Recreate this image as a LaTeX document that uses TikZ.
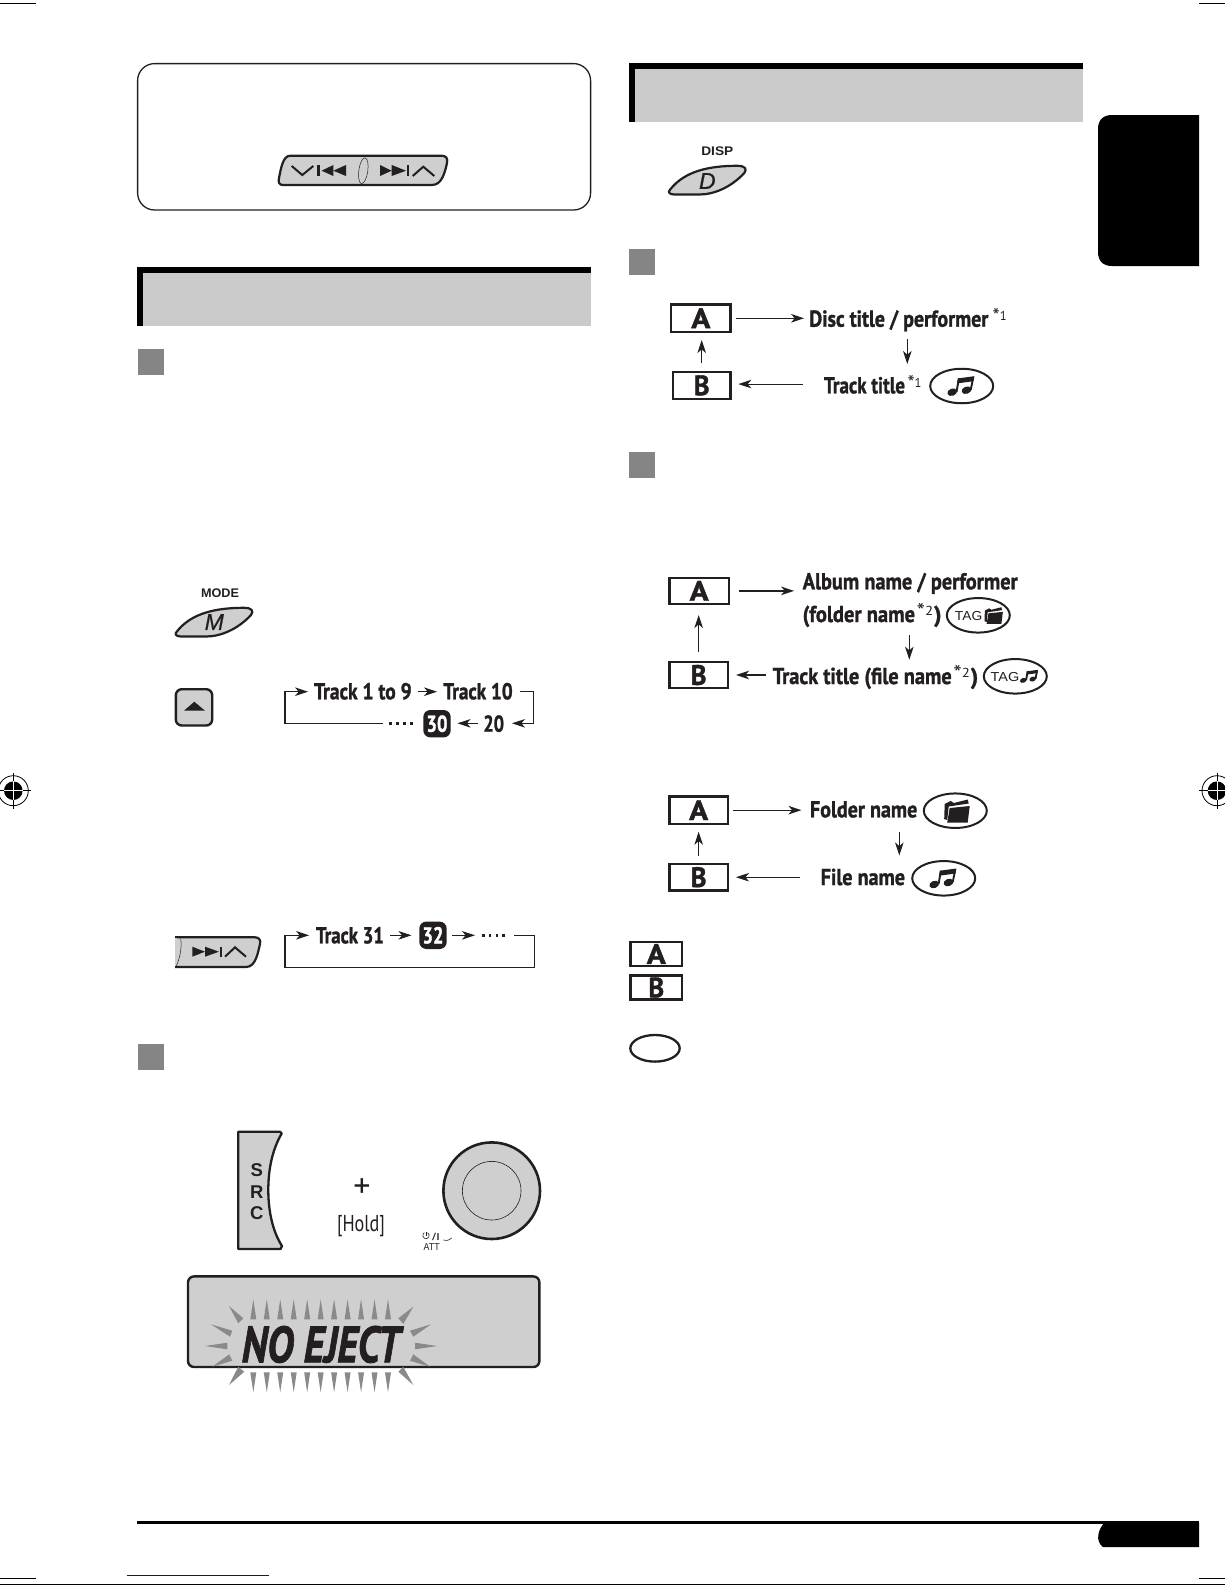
\documentclass[tikz,border=0pt]{standalone}
\usepackage{fontspec}
\usepackage{graphicx}
\usetikzlibrary{arrows.meta,shapes.geometric}
\setmainfont[BoldFeatures={FakeBold=1.4},BoldItalicFeatures={FakeBold=1.6}]{PT Sans}
\newfontfamily\hv{Liberation Sans}
\newfontfamily\hvi[ItalicFeatures={FakeBold=0.7}]{Liberation Sans}
\definecolor{ink}{HTML}{231F20}
\definecolor{panel}{HTML}{CFCFCF}
\definecolor{band}{HTML}{CBCBCB}
\definecolor{sq}{HTML}{858585}
\definecolor{rayc}{HTML}{8A8A8A}
\newcommand\cond[2]{\resizebox{#1pt}{\height}{#2}}
\newcommand\fsz[1]{\fontsize{#1}{#1}\selectfont}
\newcommand\starsup[1]{\raisebox{-3.5pt}{\fsz{21}*}\fsz{13}#1}
\tikzset{
 btn/.style={draw=ink,fill=panel,line width=2.2pt,line join=round},
 ttl/.style={inner sep=0pt,anchor=base,text=ink,font=\bfseries\fsz{23}},
 sup/.style={inner sep=0pt,anchor=base,text=ink,font=\fsz{13}},
 hvt/.style={inner sep=0pt,anchor=base,text=ink,font=\hv\bfseries\fsz{12.5}},
 tagt/.style={inner sep=0pt,anchor=base,text=ink,font=\hv\fsz{13}},
 abox/.style={draw=ink,line width=2.3pt,inner sep=0pt,text=ink,font=\bfseries\fsz{28}},
 nbox/.style={fill=ink,rounded corners=7pt,minimum width=27.4pt,minimum height=27.4pt,inner sep=0pt,text=white,font=\bfseries\fsz{23}},
 oval/.style={draw=ink,ellipse,line width=2pt,inner sep=0pt},
 arr/.style={draw=ink,line width=1.1pt,-{Stealth[length=13pt,width=8.5pt,inset=3.6pt]}},
 rayt/.style={fill=rayc},
 dotrow/.style={draw=ink,line width=2.8pt,dash pattern=on 2.8pt off 4.1pt},
 lp/.style={draw=ink,line width=1pt},
 hdr/.style={fill=band},
 sqr/.style={fill=sq},
 sym/.style={fill=ink},
 chev/.style={draw=ink,line width=2pt},
}
\newcommand\leafbtn[2]{\begin{scope}[shift={(#1,#2)}]
 \draw[btn] (0.5,25) .. controls (15,6) and (40,0.8) .. (68,0.8) .. controls (76,0.8) and (78,4) .. (75,8) .. controls (62,22) and (45,29.5) .. (30,29.5) -- (5,29.5) .. controls (0,29.5) and (-1.5,27) .. (0.5,25) -- cycle;
\end{scope}}
\newcommand\noteicon[3]{\begin{scope}[shift={(#1,#2)},scale=#3]
 \fill[ink] (-9.5,6.2) circle [x radius=5pt,y radius=3.6pt,rotate=20];
 \fill[ink] (4.8,4.2) circle [x radius=5pt,y radius=3.6pt,rotate=20];
 \draw[ink,line width=1.9pt] (-5.2,6) -- (-2.8,-7.5);
 \draw[ink,line width=1.9pt] (9,4) -- (11.6,-9);
 \fill[ink] (-3.8,-7.6) -- (12.6,-9.8) -- (11.8,-4.8) -- (-4.6,-2.6) -- cycle;
\end{scope}}
\newcommand\foldericon[3]{\begin{scope}[shift={(#1,#2)},scale=#3]
 \fill[ink] (-12,-7) -- (-6,-10) -- (-3,-8) -- (11,-11.5) -- (12,-7.5) -- (-8,-4.5) -- (-9.5,9) -- (-12.5,8) -- cycle;
 \fill[ink] (-7,-3) -- (13,-5) -- (11,11.5) -- (-9.5,11.5) -- cycle;
\end{scope}}
\newcommand\regmark[2]{\begin{scope}[shift={(#1,#2)}]
 \draw[black,line width=.8pt] (0,0) circle (15);
 \fill[black] (0,0) circle (9.3);
 \draw[black,line width=.8pt] (-18,0) -- (18,0) (0,-18) -- (0,18);
 \draw[white,line width=.8pt] (-9.3,0) -- (9.3,0) (0,-9.3) -- (0,9.3);
\end{scope}}
\begin{document}
\begin{tikzpicture}[x=1pt,y=-1pt]
\useasboundingbox (0,0) rectangle (1225,1585);
\fill[white] (0,0) rectangle (1225,1585);
% crop marks and page furniture
\draw[black,line width=1pt] (0,3.3) -- (36,3.3) (1199,3.3) -- (1225,3.3) (0,1578.3) -- (36,1578.3) (1199,1578.3) -- (1225,1578.3) (0,1584.5) -- (1225,1584.5);
\draw[blue,line width=1pt] (127,1575) -- (269,1575);
\regmark{13.3}{790.7}
\regmark{1217}{790.7}
\fill[black] (1112,115) -- (1199,115) -- (1199,266) -- (1112,266) .. controls (1103,266) and (1098,261) .. (1098,252) -- (1098,129) .. controls (1098,120) and (1103,115) .. (1112,115) -- cycle;
\fill[black] (137,1520.7) rectangle (1199,1524.3);
\fill[black] (1199,1523) -- (1104,1523) .. controls (1098,1530) and (1095,1541) .. (1103,1547) -- (1199,1547) -- cycle;
% top-left frame
\draw[ink,line width=1.3pt,rounded corners=17pt] (137.6,63.6) rectangle (590.6,210);
\draw[btn] (290,155.8) -- (441.7,155.8) .. controls (446,155.8) and (448,158) .. (447,163) .. controls (445,172) and (442,185) .. (432,185) -- (283,185) .. controls (279,185) and (278,182) .. (279,178) .. controls (281,168) and (283,155.8) .. (290,155.8) -- cycle;
\draw[chev] (291.7,166) -- (302.3,175) -- (313.3,166);
\fill[sym] (316.7,165) rectangle (320,176);
\fill[sym] (333.3,165) -- (321.7,170.7) -- (333.3,176) -- cycle;
\fill[sym] (346,165) -- (333.3,170.7) -- (346,176) -- cycle;
\draw[ink,line width=.5pt] (363.3,170.7) circle [x radius=4.5pt,y radius=13pt,rotate=-8];
\fill[sym] (380,165) -- (391.7,170.7) -- (380,176) -- cycle;
\fill[sym] (391.7,165) -- (406,170.7) -- (391.7,176) -- cycle;
\fill[sym] (406.5,165) rectangle (409,176);
\draw[chev] (412.7,176) -- (423.3,166.7) -- (434.3,176);
% headers
\fill[hdr] (137,267) rectangle (591,326);
\fill[black] (137,267) rectangle (591,273);
\fill[black] (137,267) rectangle (143,326);
\fill[hdr] (629,63) rectangle (1083,122);
\fill[black] (629,63) rectangle (1083,69);
\fill[black] (629,63) rectangle (635,122);
% step squares
\fill[sqr] (137.5,349) rectangle (164,375);
\fill[sqr] (137.5,1044) rectangle (164,1070);
\fill[sqr] (629,249) rectangle (655,275);
\fill[sqr] (629,452) rectangle (655,478);
% MODE
\node[hvt] (modet) at (220,597) {\cond{38}{MODE}};
\leafbtn{176}{607}
\node[inner sep=0pt,text=ink,font=\hvi\itshape\fsz{23}] (modem) at (214.3,622) {M};
% up button
\draw[btn,line width=2.4pt,rounded corners=6pt] (175.8,689.2) rectangle (212.2,725.5);
\fill[sym] (184,710.7) -- (194.3,701.7) -- (205,710.7) -- cycle;
% track loop 1
\coordinate (y1) at (0,691.7);
\coordinate (y2) at (0,723.3);
\node[ttl] (t19) at (362.85,699.3) {\cond{97.7}{Track 1 to 9}};
\node[ttl] (t10) at (478,699.3) {\cond{69.4}{Track 10}};
\node[ttl] (n20) at (493.7,731.7) {\cond{20.7}{20}};
\node[nbox] (b30) at (437,723.7) {\cond{21}{30}};
\coordinate (l1) at (383.3,723.3);
\coordinate (lc) at (285,691.7);
\coordinate (rc) at (533.3,691.7);
\draw[dotrow] (389.3,723.3) -- (416.7,723.3);
\draw[arr,shorten >=5.7pt] (l1) -| (lc) -- (lc -| t19.west);
\draw[arr,shorten <=6pt,shorten >=6pt] (t19.east |- y1) -- (t10.west |- y1);
\draw[arr,shorten <=7.3pt,shorten >=-0pt] (t10.east |- y1) -- (rc) -- (rc |- y2) -- ([xshift=7.7pt]n20.east |- y2);
\draw[arr,shorten <=5pt,shorten >=6.6pt] (n20.west |- y2) -- (b30.east |- y2);
% next button and loop 2
\draw[btn] (175,937.3) -- (255,937.3) .. controls (259,937.3) and (261,940) .. (260,944) .. controls (258,952) and (256,967) .. (246,967) -- (175,967);
\fill[panel] (175,938.4) rectangle (177,965.9);
\draw[ink,line width=.5pt] (180.7,938.3) .. controls (182,948) and (180,958) .. (176,966.7);
\fill[sym] (192.3,946.7) -- (205,951.7) -- (192.3,956.7) -- cycle;
\fill[sym] (205,946.7) -- (219,951.7) -- (205,956.7) -- cycle;
\fill[sym] (219.5,946.7) rectangle (221.5,956.7);
\draw[chev] (225,956.7) -- (235,947.3) -- (246,956.7);
\coordinate (y3) at (0,935.3);
\node[ttl] (t31) at (350,943.3) {\cond{68}{Track 31}};
\node[nbox] (b32) at (433,935.3) {\cond{21}{32}};
\coordinate (d2) at (481.7,935.3);
\coordinate (m1) at (514,935.3);
\coordinate (m2) at (534.3,967.3);
\coordinate (m4) at (285,935.3);
\draw[dotrow] (d2) -- (508.3,935.3);
\draw[arr,shorten >=6.7pt] (m1) -| (m2) -| (m4) -- (m4 -| t31.west);
\draw[arr,shorten <=6pt,shorten >=7.6pt] (t31.east |- y3) -- (b32.west);
\draw[arr,shorten <=5pt,shorten >=6.7pt] (b32.east) -- (d2);
% SRC + knob
\draw[btn,line width=2.3pt] (238.3,1131.7) -- (280,1131.7) -- (281.7,1133.5) .. controls (272,1150) and (268.3,1170) .. (268.3,1190) .. controls (268.3,1212) and (273,1232) .. (282,1246) -- (280.5,1249) -- (238.3,1249) -- cycle;
\node[inner sep=0pt,text=ink,align=center,font=\hv\bfseries\fontsize{18.5}{21.7}\selectfont] (src) at (256.7,1191.7) {S\\R\\C};
\node[inner sep=0pt,text=ink,font=\fsz{34}] (plus) at (362,1188) {+};
\node[ttl,font=\fsz{23}] (hold) at (361,1231.7) {\cond{48}{[Hold]}};
\draw[btn,line width=2.6pt] (491.7,1190.7) circle (48.3);
\draw[ink,line width=.6pt] (491.7,1190.7) circle (29.3);
\node[tagt,font=\hv\fsz{10}] (att) at (431.7,1250) {\cond{16}{ATT}};
\node[tagt,font=\hv\fsz{10}] (pw) at (436,1240) {\cond{8}{/I}};
\draw[ink,line width=.6pt] (427.6,1232.7) arc [start angle=-60,end angle=240,radius=3.2];
\draw[ink,line width=.6pt] (426,1231.5) -- (426,1235.5);
\draw[ink,line width=.6pt] (443.3,1240) .. controls (447,1241) and (450,1240) .. (451.7,1238);
% display
\draw[btn,line width=2.4pt,rounded corners=6pt] (188,1276.4) rectangle (539.4,1367);
\foreach \i in {0,...,10}{
 \pgfmathsetmacro\xx{253.3+13.47*\i}
 \fill[rayt] ({\xx-3},1319.3) -- (\xx,1299.3) -- ({\xx+3},1319.3) -- cycle;
 \fill[rayt] ({\xx-3},1372.3) -- (\xx,1392.3) -- ({\xx+3},1372.3) -- cycle;
}
\fill[rayt] (229,1306) -- (243.3,1318.3) -- (238.3,1323.3) -- cycle;
\fill[rayt] (413.3,1306.7) -- (398.3,1318.3) -- (403.3,1324) -- cycle;
\fill[rayt] (211,1324.3) -- (232.3,1330.7) -- (230,1336.7) -- cycle;
\fill[rayt] (205,1346) -- (227.3,1342.7) -- (227.3,1349.3) -- cycle;
\fill[rayt] (212.3,1366.7) -- (229.3,1354.3) -- (232.3,1360.7) -- cycle;
\fill[rayt] (229,1385) -- (238.3,1366.7) -- (244.3,1371.7) -- cycle;
\fill[rayt] (413.3,1385) -- (398.3,1371.7) -- (403.3,1366.7) -- cycle;
\fill[rayt] (431,1324.3) -- (410,1330.7) -- (413.3,1336.7) -- cycle;
\fill[rayt] (437.3,1346) -- (415,1342.7) -- (415,1349.3) -- cycle;
\fill[rayt] (430,1366.7) -- (410,1360.7) -- (413.3,1354.3) -- cycle;
\node[ttl,font=\bfseries\itshape\fsz{51}] (noej) at (320.8,1362.3) {\cond{158.3}{NO EJECT}};
% DISP
\node[hvt] (dispt) at (717.3,155.5) {\cond{32}{DISP}};
\leafbtn{669.3}{165}
\node[inner sep=0pt,text=ink,font=\hvi\itshape\fsz{23}] (dispd) at (707.3,181) {D};
% diagram 1
\node[abox,minimum width=59.4pt,minimum height=27.7pt] (a1) at (700.85,318.3) {\cond{19}{A}};
\node[abox,minimum width=57.7pt,minimum height=27pt] (b1) at (701.7,385.35) {\cond{15.7}{B}};
\node[ttl] (d1) at (898.8,326.7) {\cond{179}{Disc title / performer}};
\node[sup] (s1) at (999.7,320) {\cond{14}{\starsup{1}}};
\node[ttl] (t1) at (864.5,393.3) {\cond{81}{Track title}};
\node[sup] (s2) at (914.5,387) {\cond{14}{\starsup{1}}};
\node[oval,minimum width=63pt,minimum height=34.5pt] (e1) at (961.7,386) {};
\noteicon{961.7}{386}{1}
\coordinate (x1) at (907.3,0);
\draw[arr,shorten <=4.3pt,shorten >=5pt] (a1.east) -- (a1.east -| d1.west);
\draw[arr,shorten <=7.6pt,shorten >=12.7pt] (d1.south -| x1) -- (t1.north -| x1);
\draw[arr,shorten <=21.3pt,shorten >=6.6pt] ([yshift=1.3pt]b1.east -| t1.west) -- ([yshift=1.3pt]b1.east);
\draw[arr,shorten <=7.4pt,shorten >=6.7pt] (b1.north) -- (b1.north |- a1.south);
% diagram 2
\node[abox,minimum width=59.4pt,minimum height=26pt] (a2) at (699.15,590.85) {\cond{19}{A}};
\node[abox,minimum width=58.4pt,minimum height=26.3pt] (b2) at (698.65,675) {\cond{15.7}{B}};
\node[ttl] (al) at (910.2,589.3) {\cond{215}{Album name / performer}};
\node[ttl] (fo) at (858.85,622) {\cond{112.3}{(folder name}};
\node[sup] (s3) at (925,615) {\cond{16.6}{\starsup{2}}};
\node[ttl] (fo2) at (937.8,622) {)};
\node[oval,minimum width=63pt,minimum height=34.5pt] (e2) at (978.3,615.3) {};
\node[tagt] (tg1) at (968.6,620.3) {\cond{27.3}{TAG}};
\foldericon{993.5}{615.5}{.72}
\node[ttl] (tr) at (862.2,684) {\cond{179}{Track title (file name}};
\node[sup] (s4) at (961.7,677) {\cond{16.6}{\starsup{2}}};
\node[ttl] (tr2) at (974.5,684) {)};
\node[oval,minimum width=63pt,minimum height=34.5pt] (e3) at (1015.3,676.3) {};
\node[tagt] (tg2) at (1005,681.3) {\cond{28.6}{TAG}};
\noteicon{1029.5}{676.3}{.66}
\coordinate (x2) at (909.3,0);
\draw[arr,line width=1.3pt,shorten <=9.3pt,shorten >=8.4pt] (a2.east) -- (a2.east -| al.west);
\draw[arr,shorten <=8pt,shorten >=7.7pt] (fo.south -| x2) -- (tr.north -| x2);
\draw[arr,shorten <=6.7pt,shorten >=7pt] (b2.east -| tr.west) -- (b2.east);
\draw[arr,shorten <=9pt,shorten >=10pt] (b2.north) -- (b2.north |- a2.south);
% diagram 3
\node[abox,minimum width=58.4pt,minimum height=27.4pt] (a3) at (698.65,810.15) {\cond{19}{A}};
\node[abox,minimum width=58.4pt,minimum height=26.7pt] (b3) at (698.65,877.2) {\cond{15.7}{B}};
\node[ttl] (fn) at (863.65,817.3) {\cond{107.3}{Folder name}};
\node[oval,minimum width=63pt,minimum height=34.5pt] (e4) at (955.3,810.7) {};
\foldericon{956.7}{811}{1}
\node[ttl] (fl) at (862.85,885) {\cond{84.3}{File name}};
\node[oval,minimum width=63pt,minimum height=34.5pt] (e5) at (943.7,878.3) {};
\noteicon{943.7}{878.3}{1}
\coordinate (x3) at (899.3,0);
\draw[arr,shorten <=4.3pt,shorten >=8.3pt] (a3.east) -- (a3.east -| fn.west);
\draw[arr,shorten <=13.7pt,shorten >=13pt] (fn.south -| x3) -- (fl.north -| x3);
\draw[arr,line width=1.4pt,shorten <=20.7pt,shorten >=7pt] (b3.east -| fl.west) -- (b3.east);
\draw[arr,line width=1.4pt,shorten <=7pt,shorten >=6.7pt] (b3.north) -- (b3.north |- a3.south);
% legend
\node[abox,minimum width=51.7pt,minimum height=24.3pt] (la) at (656.3,954) {\cond{19}{A}};
\node[abox,minimum width=51.7pt,minimum height=24.1pt] (lb) at (656.3,987.5) {\cond{15.7}{B}};
\node[oval,line width=2.3pt,minimum width=49.4pt,minimum height=26.6pt] (lo) at (655,1048.3) {};
\end{tikzpicture}
\end{document}
